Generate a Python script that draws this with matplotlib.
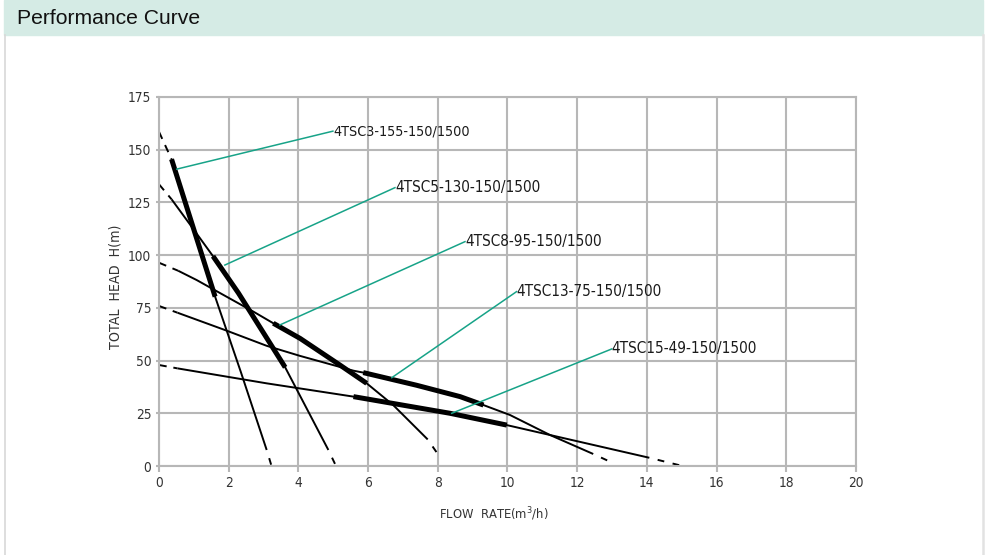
import numpy as np
import matplotlib.pyplot as plt
from matplotlib.patches import Rectangle
from matplotlib.lines import Line2D

plt.rcParams['font.family'] = ['DejaVu Sans']
plt.rcParams['font.stretch'] = 'condensed'

# ---------------------- PUMP CURVES ----------------------
# first pair of points = shut-off extension (dashed),
# last pair = run-out extension (dashed), duty = thick operating range

names = ['4TSC3-155-150/1500', '4TSC5-130-150/1500', '4TSC8-95-150/1500',
         '4TSC13-75-150/1500', '4TSC15-49-150/1500']

q1 = [0, 0.36, 1.61, 2.35, 3.09, 3.22]
h1 = [158.5, 145.5, 80.3, 44.5, 7.6, 0.5]
duty1 = (1, 2)

q2 = [0, 0.36, 0.98, 1.55, 2.28, 3.62, 4.86, 5.05]
h2 = [133.6, 126.5, 112.5, 99.5, 82.0, 46.8, 7.6, 1.0]
duty2 = (3, 5)

q3 = [0, 0.55, 1.08, 2.71, 3.28, 4.05, 5.19, 5.96, 6.72, 7.71, 8.02]
h3 = [96.4, 92.6, 88.2, 73.2, 67.7, 60.5, 47.9, 39.2, 28.9, 12.6, 5.2]
duty3 = (4, 7)

q4 = [0, 0.53, 1.94, 3.09, 4.05, 5.58, 5.86, 7.39, 8.64, 9.31, 10.07, 11.22, 12.46, 13.04]
h4 = [75.9, 72.7, 64.2, 57.0, 52.2, 45.2, 44.3, 38.3, 32.9, 28.9, 24.2, 14.7, 5.7, 1.3]
duty4 = (6, 9)

q5 = [0, 0.53, 3.09, 5.58, 8.35, 9.98, 11.22, 14.07, 14.95]
h5 = [47.9, 46.3, 39.2, 32.9, 25.0, 19.4, 14.7, 3.9, 0.3]
duty5 = (3, 5)

# label leader lines: from point on curve to start of text
tip_q = [0.51, 1.89, 3.47, 6.68, 8.40]
tip_h = [140.8, 95.3, 66.9, 41.9, 25.0]
txt_q = [4.99, 6.77, 8.78, 10.26, 12.99]
txt_h = [158.8, 132.0, 106.4, 82.7, 55.5]

curves = [(q1, h1, duty1), (q2, h2, duty2), (q3, h3, duty3),
          (q4, h4, duty4), (q5, h5, duty5)]

# ---------------------- PLOT ----------------------
fig = plt.figure(figsize=(9.86, 5.55), dpi=100)
W, H = 986.0, 555.0

# page header and panel frame
fig.patches.append(Rectangle((4 / W, 1 - 35 / H), 979 / W, 35 / H,
                             transform=fig.transFigure, color='#d5ebe5', zorder=0))
fig.lines.append(Line2D([4.5 / W, 4.5 / W], [0, 1 - 35 / H], transform=fig.transFigure,
                        color='#d8d8d8', lw=1.2))
fig.lines.append(Line2D([982.5 / W, 982.5 / W], [0, 1 - 35 / H], transform=fig.transFigure,
                        color='#e2e2e2', lw=1.8))
fig.text(17 / W, 1 - 18 / H, 'Performance Curve', fontsize=15.2,
         family=['Liberation Sans', 'DejaVu Sans'], stretch='normal',
         color='#111111', va='center')

ax = fig.add_axes([159 / W, 1 - 466 / H, 697 / W, 369 / H])
grid_c = '#b7b7b7'
ax.set_xlim(0, 20)
ax.set_ylim(0, 175)
ax.set_xticks(np.arange(0, 21, 2))
ax.set_yticks(np.arange(0, 176, 25))
ax.grid(True, color=grid_c, lw=1.5)
ax.set_axisbelow(True)
for s in ax.spines.values():
    s.set_color(grid_c)
    s.set_linewidth(1.5)
ax.tick_params(axis='x', length=4.5, width=1.5, color=grid_c, pad=3,
               labelsize=9.8, labelcolor='#333333')
ax.tick_params(axis='y', length=2.5, width=1.5, color=grid_c, pad=3,
               labelsize=9.8, labelcolor='#333333')

thin, thick = 1.4, 3.6
for q, h, (a, b) in curves:
    q = np.array(q)
    h = np.array(h)
    n = len(q)
    # shut-off extension
    ax.plot(q[:2], h[:2], color='k', lw=thin, linestyle=(0, (4, 3.5)),
            dash_capstyle='butt')
    # run-out extension
    ax.plot(q[n - 2:], h[n - 2:], color='k', lw=thin, linestyle=(3.5, (3.5, 4.4)),
            dash_capstyle='butt')
    # full curve, thin
    ax.plot(q[1:n - 1], h[1:n - 1], color='k', lw=thin, solid_capstyle='butt')
    # operating range, thick
    ax.plot(q[a:b + 1], h[a:b + 1], color='k', lw=thick, solid_capstyle='butt')

for i, name in enumerate(names):
    ax.plot([tip_q[i], txt_q[i]], [tip_h[i], txt_h[i]], color='#17a388', lw=1.1)
    ax.text(txt_q[i], txt_h[i], name, fontsize=10.3 if i == 0 else 11,
            color='#1a1a1a', va='center', ha='left')

ax.set_xlabel('FLOW  RATE(m$^3$/h)', fontsize=9.3, color='#333333')
ax.set_ylabel('TOTAL  HEAD  H(m)', fontsize=10.2, color='#333333')
ax.xaxis.set_label_coords(0.481, -0.108)
ax.yaxis.set_label_coords(-0.053, 0.485)

fig.savefig('out.png', dpi=100)
